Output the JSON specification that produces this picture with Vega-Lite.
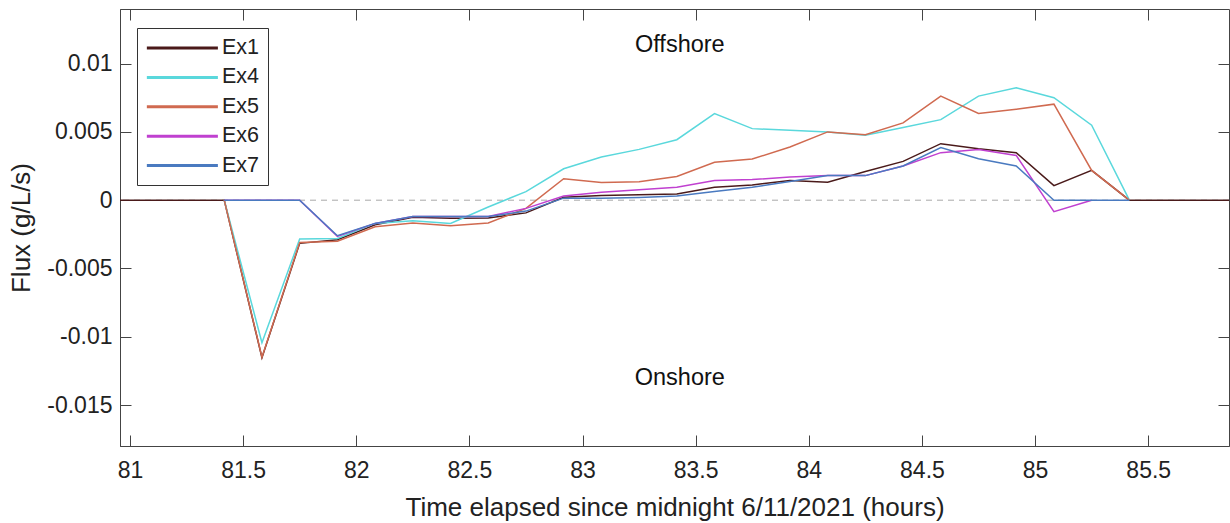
{
  "$schema": "https://vega.github.io/schema/vega-lite/v6.json",
  "width": 1109,
  "height": 437,
  "autosize": "none",
  "padding": {"left": 120, "top": 9, "right": 1, "bottom": 77},
  "background": "white",
  "config": {
    "view": {"stroke": "#444", "strokeWidth": 1},
    "font": "Liberation Sans",
    "axis": {"grid": false, "domainColor": "#444", "tickColor": "#444", "labelColor": "#222", "titleColor": "#222", "labelFont": "Liberation Sans", "titleFont": "Liberation Sans", "labelFontSize": 23, "titleFontSize": 26, "titleFontWeight": "normal", "tickSize": -11, "labelFlush": false, "labelOverlap": false}
  },
  "datasets": {
    "flux": [
      {"series": "Ex1", "t": 80.9, "v": 0},
      {"series": "Ex1", "t": 81.4167, "v": 0},
      {"series": "Ex1", "t": 81.5833, "v": -0.01154},
      {"series": "Ex1", "t": 81.75, "v": -0.00316},
      {"series": "Ex1", "t": 81.9167, "v": -0.0029},
      {"series": "Ex1", "t": 82.0833, "v": -0.0018},
      {"series": "Ex1", "t": 82.25, "v": -0.00125},
      {"series": "Ex1", "t": 82.4167, "v": -0.00132},
      {"series": "Ex1", "t": 82.5833, "v": -0.0013},
      {"series": "Ex1", "t": 82.75, "v": -0.00093},
      {"series": "Ex1", "t": 82.9167, "v": 0.00022},
      {"series": "Ex1", "t": 83.0833, "v": 0.00034},
      {"series": "Ex1", "t": 83.25, "v": 0.00039},
      {"series": "Ex1", "t": 83.4167, "v": 0.00046},
      {"series": "Ex1", "t": 83.5833, "v": 0.00095},
      {"series": "Ex1", "t": 83.75, "v": 0.00112},
      {"series": "Ex1", "t": 83.9167, "v": 0.00144},
      {"series": "Ex1", "t": 84.0833, "v": 0.00132},
      {"series": "Ex1", "t": 84.25, "v": 0.0021},
      {"series": "Ex1", "t": 84.4167, "v": 0.00284},
      {"series": "Ex1", "t": 84.5833, "v": 0.00414},
      {"series": "Ex1", "t": 84.75, "v": 0.00377},
      {"series": "Ex1", "t": 84.9167, "v": 0.00348},
      {"series": "Ex1", "t": 85.0833, "v": 0.00107},
      {"series": "Ex1", "t": 85.25, "v": 0.00218},
      {"series": "Ex1", "t": 85.4167, "v": 0},
      {"series": "Ex1", "t": 85.9, "v": 0},
      {"series": "Ex4", "t": 81.4167, "v": 0},
      {"series": "Ex4", "t": 81.5833, "v": -0.01044},
      {"series": "Ex4", "t": 81.75, "v": -0.00285},
      {"series": "Ex4", "t": 81.9167, "v": -0.0028},
      {"series": "Ex4", "t": 82.0833, "v": -0.0017},
      {"series": "Ex4", "t": 82.25, "v": -0.0015},
      {"series": "Ex4", "t": 82.4167, "v": -0.0017},
      {"series": "Ex4", "t": 82.5833, "v": -0.0005},
      {"series": "Ex4", "t": 82.75, "v": 0.00063},
      {"series": "Ex4", "t": 82.9167, "v": 0.0023},
      {"series": "Ex4", "t": 83.0833, "v": 0.00316},
      {"series": "Ex4", "t": 83.25, "v": 0.00372},
      {"series": "Ex4", "t": 83.4167, "v": 0.00443},
      {"series": "Ex4", "t": 83.5833, "v": 0.00634},
      {"series": "Ex4", "t": 83.75, "v": 0.00524},
      {"series": "Ex4", "t": 83.9167, "v": 0.00512},
      {"series": "Ex4", "t": 84.0833, "v": 0.005},
      {"series": "Ex4", "t": 84.25, "v": 0.00475},
      {"series": "Ex4", "t": 84.4167, "v": 0.00532},
      {"series": "Ex4", "t": 84.5833, "v": 0.0059},
      {"series": "Ex4", "t": 84.75, "v": 0.00762},
      {"series": "Ex4", "t": 84.9167, "v": 0.00824},
      {"series": "Ex4", "t": 85.0833, "v": 0.0075},
      {"series": "Ex4", "t": 85.25, "v": 0.00549},
      {"series": "Ex4", "t": 85.4167, "v": 0},
      {"series": "Ex5", "t": 81.4167, "v": 0},
      {"series": "Ex5", "t": 81.5833, "v": -0.0115},
      {"series": "Ex5", "t": 81.75, "v": -0.0031},
      {"series": "Ex5", "t": 81.9167, "v": -0.003},
      {"series": "Ex5", "t": 82.0833, "v": -0.00194},
      {"series": "Ex5", "t": 82.25, "v": -0.00167},
      {"series": "Ex5", "t": 82.4167, "v": -0.00187},
      {"series": "Ex5", "t": 82.5833, "v": -0.00167},
      {"series": "Ex5", "t": 82.75, "v": -0.0006},
      {"series": "Ex5", "t": 82.9167, "v": 0.00157},
      {"series": "Ex5", "t": 83.0833, "v": 0.0013},
      {"series": "Ex5", "t": 83.25, "v": 0.00135},
      {"series": "Ex5", "t": 83.4167, "v": 0.00174},
      {"series": "Ex5", "t": 83.5833, "v": 0.00277},
      {"series": "Ex5", "t": 83.75, "v": 0.00301},
      {"series": "Ex5", "t": 83.9167, "v": 0.0039},
      {"series": "Ex5", "t": 84.0833, "v": 0.005},
      {"series": "Ex5", "t": 84.25, "v": 0.0048},
      {"series": "Ex5", "t": 84.4167, "v": 0.00566},
      {"series": "Ex5", "t": 84.5833, "v": 0.00762},
      {"series": "Ex5", "t": 84.75, "v": 0.00635},
      {"series": "Ex5", "t": 84.9167, "v": 0.00666},
      {"series": "Ex5", "t": 85.0833, "v": 0.00703},
      {"series": "Ex5", "t": 85.25, "v": 0.00218},
      {"series": "Ex5", "t": 85.4167, "v": 0},
      {"series": "Ex6", "t": 81.4167, "v": 0},
      {"series": "Ex6", "t": 81.75, "v": 0},
      {"series": "Ex6", "t": 81.9167, "v": -0.00265},
      {"series": "Ex6", "t": 82.0833, "v": -0.0017},
      {"series": "Ex6", "t": 82.25, "v": -0.0012},
      {"series": "Ex6", "t": 82.4167, "v": -0.0012},
      {"series": "Ex6", "t": 82.5833, "v": -0.0012},
      {"series": "Ex6", "t": 82.75, "v": -0.0006},
      {"series": "Ex6", "t": 82.9167, "v": 0.0003},
      {"series": "Ex6", "t": 83.0833, "v": 0.00059},
      {"series": "Ex6", "t": 83.25, "v": 0.00076},
      {"series": "Ex6", "t": 83.4167, "v": 0.00095},
      {"series": "Ex6", "t": 83.5833, "v": 0.00144},
      {"series": "Ex6", "t": 83.75, "v": 0.00151},
      {"series": "Ex6", "t": 83.9167, "v": 0.00169},
      {"series": "Ex6", "t": 84.0833, "v": 0.00181},
      {"series": "Ex6", "t": 84.25, "v": 0.0018},
      {"series": "Ex6", "t": 84.4167, "v": 0.0025},
      {"series": "Ex6", "t": 84.5833, "v": 0.00348},
      {"series": "Ex6", "t": 84.75, "v": 0.00372},
      {"series": "Ex6", "t": 84.9167, "v": 0.00328},
      {"series": "Ex6", "t": 85.0833, "v": -0.00084},
      {"series": "Ex6", "t": 85.25, "v": 0},
      {"series": "Ex7", "t": 81.4167, "v": 0},
      {"series": "Ex7", "t": 81.75, "v": 0},
      {"series": "Ex7", "t": 81.9167, "v": -0.0026},
      {"series": "Ex7", "t": 82.0833, "v": -0.0017},
      {"series": "Ex7", "t": 82.25, "v": -0.0012},
      {"series": "Ex7", "t": 82.4167, "v": -0.0012},
      {"series": "Ex7", "t": 82.5833, "v": -0.0012},
      {"series": "Ex7", "t": 82.75, "v": -0.0008},
      {"series": "Ex7", "t": 82.9167, "v": 0.00015},
      {"series": "Ex7", "t": 83.0833, "v": 0.00015},
      {"series": "Ex7", "t": 83.25, "v": 0.0002},
      {"series": "Ex7", "t": 83.4167, "v": 0.0003},
      {"series": "Ex7", "t": 83.5833, "v": 0.00063},
      {"series": "Ex7", "t": 83.75, "v": 0.00095},
      {"series": "Ex7", "t": 83.9167, "v": 0.00137},
      {"series": "Ex7", "t": 84.0833, "v": 0.0018},
      {"series": "Ex7", "t": 84.25, "v": 0.0018},
      {"series": "Ex7", "t": 84.4167, "v": 0.0025},
      {"series": "Ex7", "t": 84.5833, "v": 0.00385},
      {"series": "Ex7", "t": 84.75, "v": 0.00304},
      {"series": "Ex7", "t": 84.9167, "v": 0.0025},
      {"series": "Ex7", "t": 85.0833, "v": 0},
      {"series": "Ex7", "t": 85.25, "v": 0},
      {"series": "Ex7", "t": 85.4167, "v": 0}
    ],
    "notes": [
      {"t": 83.43, "v": 0.01137, "label": "Offshore"},
      {"t": 83.43, "v": -0.01305, "label": "Onshore"}
    ]
  },
  "resolve": {"axis": {"x": "independent", "y": "independent"}},
  "layer": [
    {
      "data": {"values": [{"zero": 0}]},
      "mark": {"type": "rule", "color": "#a8a8a8", "strokeWidth": 1, "strokeDash": [6, 5]},
      "encoding": {"y": {"field": "zero", "type": "quantitative", "scale": {"domain": [-0.018, 0.014], "nice": false, "zero": false}, "axis": null}}
    },
    {
      "data": {"name": "flux"},
      "mark": {"type": "line", "strokeWidth": 1.5, "clip": true},
      "encoding": {
        "x": {"field": "t", "type": "quantitative", "scale": {"domain": [80.956, 85.857], "nice": false, "zero": false},
              "axis": {"orient": "bottom", "values": [81, 81.5, 82, 82.5, 83, 83.5, 84, 84.5, 85, 85.5], "title": "Time elapsed since midnight 6/11/2021 (hours)", "labelPadding": 24, "titlePadding": 12, "labelExpr": "format(datum.value, '~g')"}},
        "y": {"field": "v", "type": "quantitative", "scale": {"domain": [-0.018, 0.014], "nice": false, "zero": false},
              "axis": {"orient": "left", "values": [-0.015, -0.01, -0.005, 0, 0.005, 0.01], "title": "Flux (g/L/s)", "labelPadding": 19, "titlePadding": 12, "labelExpr": "replace(format(datum.value, '~g'), '\u2212', '-')"}},
        "color": {"field": "series", "type": "nominal",
                  "scale": {"domain": ["Ex1", "Ex4", "Ex5", "Ex6", "Ex7"], "range": ["#4a1a1a", "#5ad8dc", "#d06a50", "#c040d0", "#4a7ac0"]},
                  "legend": {"orient": "none", "legendX": 17, "legendY": 19, "title": null, "strokeColor": "#333", "fillColor": "white", "padding": 8, "symbolType": "M-1,0H6", "symbolStrokeWidth": 3, "symbolSize": 412, "labelFontSize": 21.5, "labelFont": "Liberation Sans", "labelColor": "#222", "labelOffset": 53, "rowPadding": 6.4}}
      }
    },
    {
      "data": {"name": "notes"},
      "mark": {"type": "text", "fontSize": 23.5, "font": "Liberation Sans", "color": "#111"},
      "encoding": {
        "x": {"field": "t", "type": "quantitative", "axis": {"orient": "top", "labels": false, "title": null, "domain": false, "values": [81, 81.5, 82, 82.5, 83, 83.5, 84, 84.5, 85, 85.5]}},
        "y": {"field": "v", "type": "quantitative", "axis": {"orient": "right", "labels": false, "title": null, "domain": false, "values": [-0.015, -0.01, -0.005, 0, 0.005, 0.01]}},
        "text": {"field": "label"}
      }
    }
  ]
}
